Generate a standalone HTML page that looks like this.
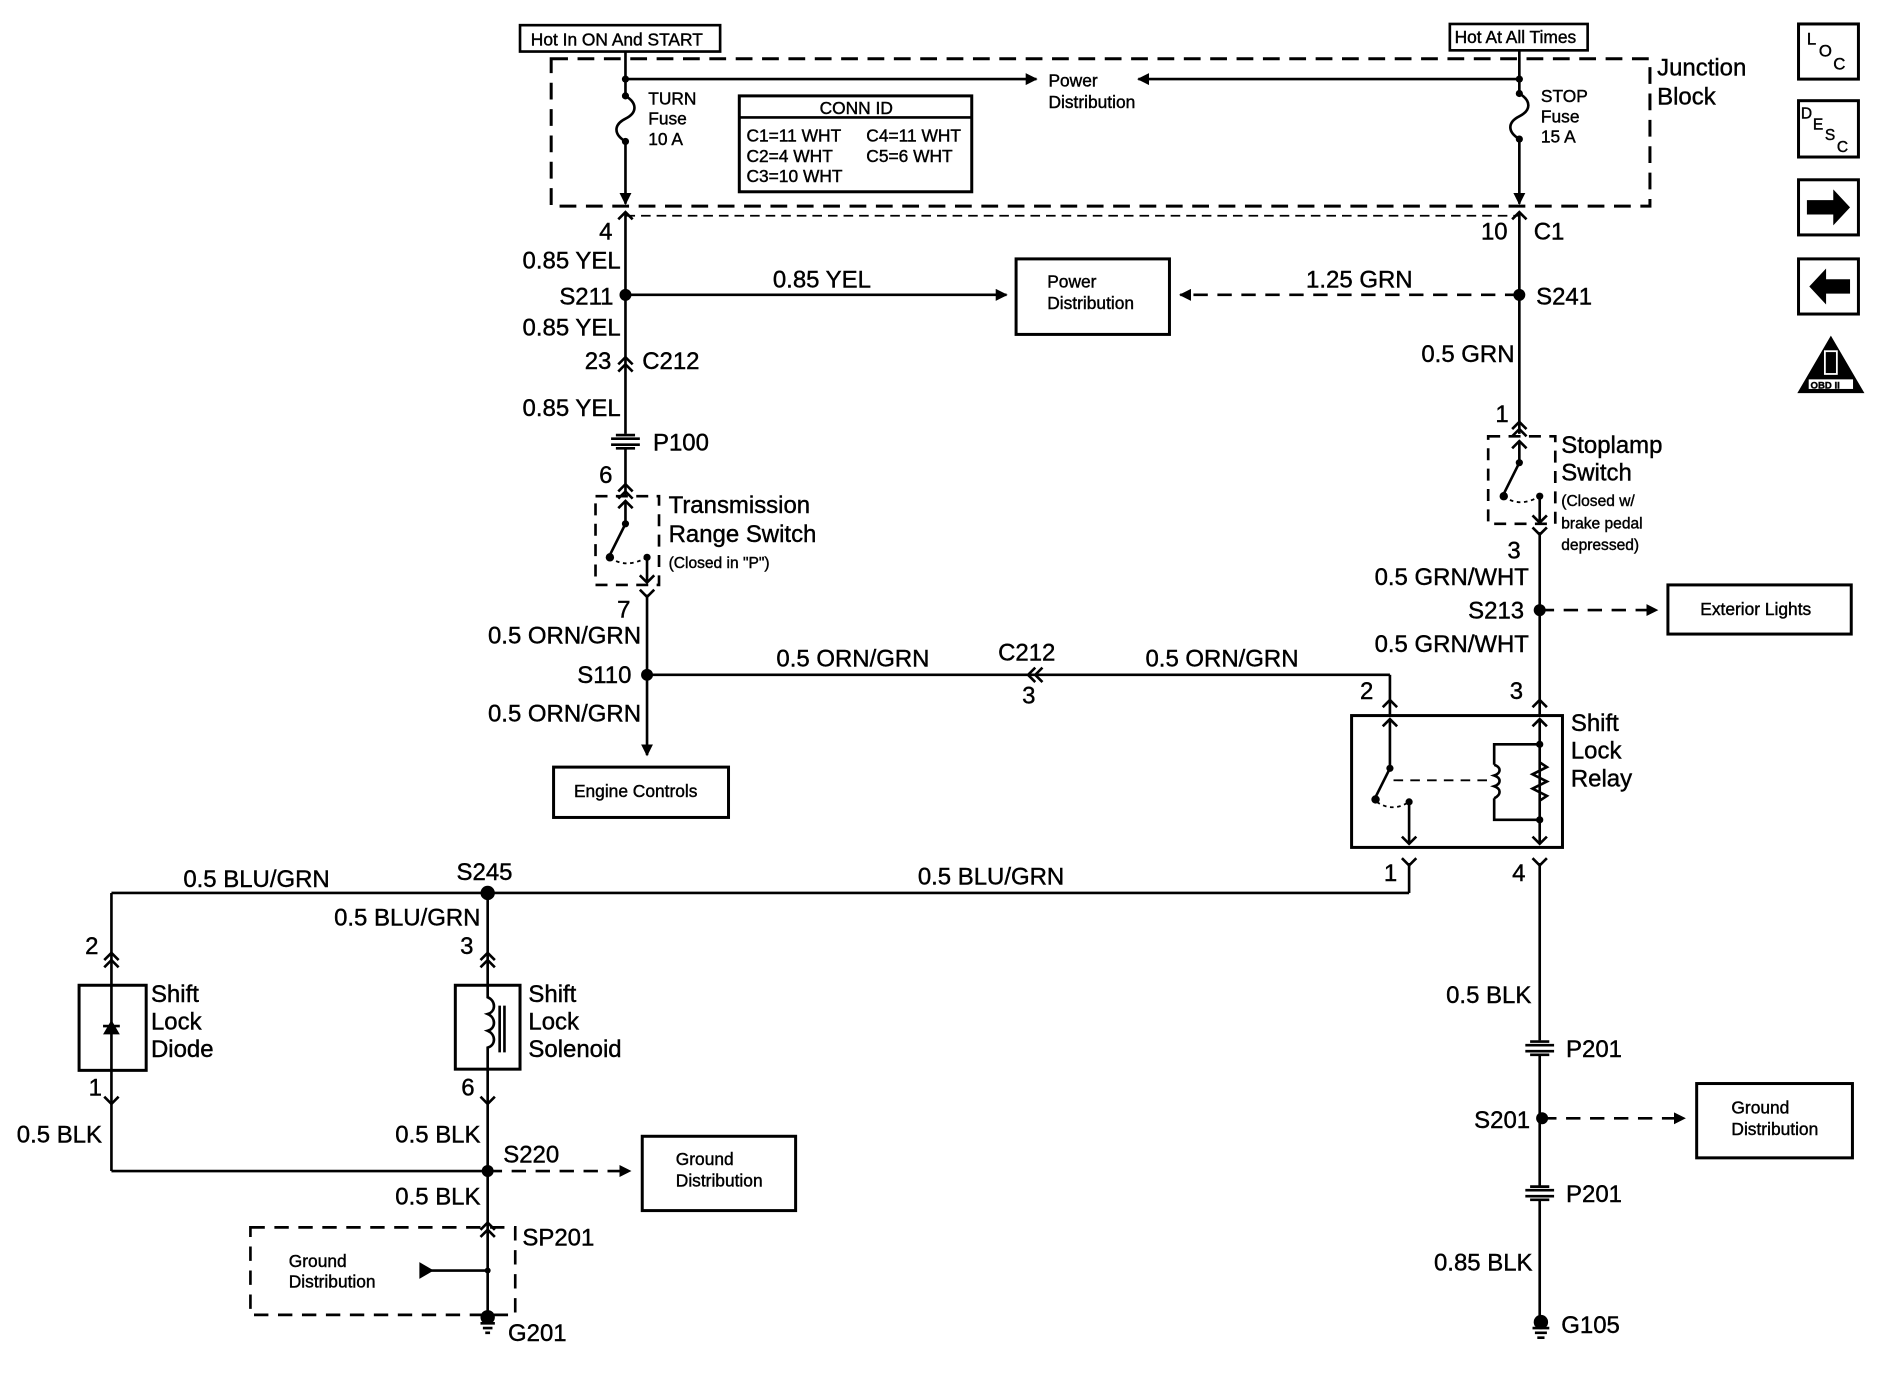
<!DOCTYPE html>
<html><head><meta charset="utf-8"><style>
html,body{margin:0;padding:0;background:#fff;}
svg{display:block;}
text{font-family:"Liberation Sans",sans-serif;fill:#000;stroke:#000;stroke-width:0.35;}
.m{font-size:20px;}
.s{font-size:14.5px;}
.b{font-size:14.5px;}
</style></head><body>
<svg width="1880" height="1376" viewBox="0 0 1569 1148" preserveAspectRatio="none" xmlns="http://www.w3.org/2000/svg">
<defs>
<marker id="ar" markerWidth="10" markerHeight="10" refX="9" refY="5" orient="auto" markerUnits="userSpaceOnUse"><path d="M0,0 L10,5 L0,10 Z" fill="#000"/></marker>
</defs>
<g stroke="#000" stroke-width="2.2" fill="none">
<rect x="434" y="21" width="167" height="22"/>
<rect x="1210" y="20" width="115" height="22"/>
<rect x="460" y="49" width="917" height="123" stroke-dasharray="14,8" stroke-width="2.5"/>
<line x1="522" y1="180" x2="1268" y2="180" stroke-dasharray="8,5" stroke-width="1.5"/>
<line x1="522" y1="43" x2="522" y2="80"/>
<path d="M522,80 c10,6 10,14 0,19 c-10,5 -10,13 0,19"/>
<line x1="522" y1="118" x2="522" y2="170" marker-end="url(#ar)"/>
<line x1="522" y1="66" x2="865" y2="66" marker-end="url(#ar)"/>
<line x1="1268" y1="66" x2="950" y2="66" marker-end="url(#ar)"/>
<line x1="1268" y1="42" x2="1268" y2="78"/>
<path d="M1268,78 c10,6 10,14 0,19 c-10,5 -10,13 0,19"/>
<line x1="1268" y1="116" x2="1268" y2="170" marker-end="url(#ar)"/>
<rect x="617" y="80" width="194" height="80" stroke-width="2.5"/>
<line x1="617" y1="98" x2="811" y2="98"/>
<path d="M516,183 L522,177 L528,183"/>
<line x1="522" y1="178" x2="522" y2="362"/>
<line x1="522" y1="246" x2="840" y2="246" marker-end="url(#ar)"/>
<path d="M516,304 L522,298 L528,304 M516,310 L522,304 L528,310"/>
<path d="M510,366 h24 M510,371 h24 M514,363 h16 M514,374 h16"/>
<line x1="522" y1="374" x2="522" y2="414"/>
<path d="M516,410 L522,404 L528,410 M516,416 L522,410 L528,416"/>
<rect x="497" y="414" width="53" height="74" stroke-dasharray="10,7"/>
<line x1="522" y1="418" x2="522" y2="437"/>
<path d="M516,424 L522,418 L528,424"/>
<line x1="522" y1="437" x2="509" y2="463"/>
<path d="M509,465 Q522,475 540,465" stroke-dasharray="3,3" stroke-width="1.5"/>
<line x1="540" y1="465" x2="540" y2="486"/>
<path d="M534,480 L540,486 L546,480"/>
<path d="M534,492 L540,498 L546,492"/>
<line x1="540" y1="496" x2="540" y2="630" marker-end="url(#ar)"/>
<rect x="462" y="640" width="146" height="42" stroke-width="2.5"/>
<line x1="540" y1="563" x2="1160" y2="563"/>
<path d="M864,557 L858,563 L864,569 M870,557 L864,563 L870,569"/>
<line x1="1160" y1="563" x2="1160" y2="598"/>
<path d="M1154,590 L1160,584 L1166,590"/>
<rect x="848" y="216" width="128" height="63" stroke-width="2.5"/>
<line x1="1268" y1="246" x2="985" y2="246" stroke-dasharray="12,8" marker-end="url(#ar)"/>
<path d="M1262,183 L1268,177 L1274,183"/>
<line x1="1268" y1="178" x2="1268" y2="362"/>
<path d="M1262,358 L1268,352 L1274,358 M1262,364 L1268,358 L1274,364"/>
<rect x="1242" y="364" width="56" height="73" stroke-dasharray="10,7"/>
<line x1="1268" y1="368" x2="1268" y2="386"/>
<path d="M1262,374 L1268,368 L1274,374"/>
<line x1="1268" y1="386" x2="1255" y2="412"/>
<path d="M1255,414 Q1268,424 1285,414" stroke-dasharray="3,3" stroke-width="1.5"/>
<line x1="1285" y1="414" x2="1285" y2="436"/>
<path d="M1279,430 L1285,436 L1291,430"/>
<path d="M1279,440 L1285,446 L1291,440"/>
<line x1="1285" y1="444" x2="1285" y2="598"/>
<line x1="1285" y1="509" x2="1383" y2="509" stroke-dasharray="12,8" marker-end="url(#ar)"/>
<rect x="1392" y="488" width="153" height="41" stroke-width="2.5"/>
<path d="M1279,590 L1285,584 L1291,590"/>
<rect x="1128" y="597" width="176" height="110" stroke-width="2.5"/>
<line x1="1160" y1="600" x2="1160" y2="641"/>
<path d="M1154,606 L1160,600 L1166,606"/>
<line x1="1160" y1="641" x2="1148" y2="665"/>
<path d="M1149,669 Q1162,678 1176,669" stroke-dasharray="3,3" stroke-width="1.5"/>
<line x1="1176" y1="669" x2="1176" y2="704"/>
<path d="M1170,698 L1176,704 L1182,698"/>
<line x1="1163" y1="651" x2="1243" y2="651" stroke-dasharray="8,6" stroke-width="1.5"/>
<line x1="1285" y1="600" x2="1285" y2="704"/>
<path d="M1279,606 L1285,600 L1291,606 M1279,698 L1285,704 L1291,698"/>
<path d="M1285,621 H1247 V638 M1247,666 V684 H1285"/>
<path d="M1247,638 c6,2 6,7 0,9 c6,2 6,7 0,9 c6,2 6,7 0,10"/>
<path d="M1285,636 l6,4 l-12,6 l12,6 l-12,6 l12,6 l-6,4"/>
<path d="M1170,716 L1176,722 L1182,716"/>
<line x1="1176" y1="720" x2="1176" y2="745"/>
<line x1="1176" y1="745" x2="93" y2="745"/>
<path d="M1279,716 L1285,722 L1291,716"/>
<line x1="1285" y1="720" x2="1285" y2="868"/>
<path d="M1273,872 h24 M1273,877 h24 M1277,869 h16 M1277,880 h16"/>
<line x1="1285" y1="880" x2="1285" y2="990"/>
<line x1="1287" y1="933" x2="1406" y2="933" stroke-dasharray="12,8" marker-end="url(#ar)"/>
<rect x="1416" y="904" width="130" height="62" stroke-width="2.5"/>
<path d="M1273,993 h24 M1273,998 h24 M1277,990 h16 M1277,1001 h16"/>
<line x1="1285" y1="1001" x2="1285" y2="1100"/>
<path d="M1279,1108 h14 M1281,1112 h10 M1283,1116 h6"/>
<line x1="93" y1="745" x2="93" y2="822"/>
<path d="M87,801 L93,795 L99,801 M87,807 L93,801 L99,807"/>
<rect x="66" y="822" width="56" height="71" stroke-width="2.5"/>
<line x1="93" y1="822" x2="93" y2="893"/>
<line x1="86" y1="856" x2="100" y2="856"/>
<line x1="93" y1="893" x2="93" y2="977"/>
<path d="M87,915 L93,921 L99,915"/>
<line x1="93" y1="977" x2="407" y2="977"/>
<line x1="407" y1="745" x2="407" y2="822"/>
<path d="M401,801 L407,795 L413,801 M401,807 L407,801 L413,807"/>
<rect x="380" y="822" width="54" height="70" stroke-width="2.5"/>
<path d="M407,822 V832 c7,3 7,12 0,14 c7,3 7,12 0,14 c7,3 7,12 0,14 V892" />
<line x1="417" y1="839" x2="417" y2="878"/><line x1="421" y1="839" x2="421" y2="878"/>
<line x1="407" y1="892" x2="407" y2="1095"/>
<path d="M401,915 L407,921 L413,915"/>
<line x1="407" y1="977" x2="526" y2="977" stroke-dasharray="12,8" marker-end="url(#ar)"/>
<rect x="536" y="948" width="128" height="62" stroke-width="2.5"/>
<path d="M401,1026 L407,1020 L413,1026 M401,1032 L407,1026 L413,1032"/>
<rect x="209" y="1024" width="221" height="73" stroke-dasharray="12,8"/>
<line x1="407" y1="1060" x2="360" y2="1060"/>
<path d="M401,1104 h12 M403,1108 h8 M405,1112 h4"/>
<rect x="1501" y="20" width="50" height="46" stroke-width="2.5"/>
<rect x="1501" y="84" width="50" height="47" stroke-width="2.5"/>
<rect x="1501" y="150" width="50" height="46" stroke-width="2.5"/>
<rect x="1501" y="216" width="50" height="46" stroke-width="2.5"/>
</g>
<g fill="#000">
<circle cx="522" cy="66" r="3"/><circle cx="1268" cy="66" r="3"/>
<circle cx="522" cy="80" r="3"/><circle cx="522" cy="118" r="3"/>
<circle cx="1268" cy="78" r="3"/><circle cx="1268" cy="116" r="3"/>
<circle cx="522" cy="246" r="5"/><circle cx="1268" cy="246" r="5"/>
<circle cx="540" cy="563" r="5"/><circle cx="1285" cy="509" r="5"/>
<circle cx="407" cy="745" r="6"/><circle cx="407" cy="977" r="5"/>
<circle cx="1287" cy="933" r="5"/>
<circle cx="522" cy="437" r="3"/><circle cx="509" cy="465" r="3.5"/><circle cx="540" cy="465" r="3"/>
<circle cx="1268" cy="386" r="3"/><circle cx="1255" cy="414" r="3.5"/><circle cx="1285" cy="414" r="3"/>
<circle cx="1160" cy="641" r="3"/><circle cx="1148" cy="667" r="3.5"/><circle cx="1176" cy="669" r="3"/>
<circle cx="1285" cy="621" r="3"/><circle cx="1285" cy="684" r="3"/>
<circle cx="407" cy="1060" r="2.5"/>
<circle cx="407" cy="1099" r="6"/><circle cx="1286" cy="1103" r="6"/>
<path d="M86,863 L100,863 L93,851 Z"/>
<path d="M350,1053 L362,1060 L350,1067 Z"/>
<path d="M1508,167 h22 v-9 l14,15 l-14,15 v-9 h-22 Z"/>
<path d="M1544,233 h-20 v-9 l-14,15 l14,15 v-9 h20 Z"/>
<path d="M1528,280 L1556,328 L1500,328 Z"/>
</g>
<rect x="1509" y="316" width="38" height="9" fill="#fff" stroke="#000"/>
<text x="1511" y="324" style="font-size:8px;font-weight:bold">OBD II</text>
<rect x="1523" y="293" width="10" height="19" fill="none" stroke="#fff" stroke-width="1.5"/>
<text x="443" y="38" class="s">Hot In ON And START</text>
<text x="1214" y="36" class="s">Hot At All Times</text>
<text x="1383" y="63" style="font-size:20px">Junction</text>
<text x="1383" y="87" style="font-size:20px">Block</text>
<text x="875" y="72" class="s">Power</text><text x="875" y="90" class="s">Distribution</text>
<text x="541" y="87" class="s">TURN</text><text x="541" y="104" class="s">Fuse</text><text x="541" y="121" class="s">10 A</text>
<text x="1286" y="85" class="s">STOP</text><text x="1286" y="102" class="s">Fuse</text><text x="1286" y="119" class="s">15 A</text>
<text x="684" y="95" class="s">CONN ID</text>
<text x="623" y="118" class="s">C1=11 WHT</text><text x="723" y="118" class="s">C4=11 WHT</text>
<text x="623" y="135" class="s">C2=4 WHT</text><text x="723" y="135" class="s">C5=6 WHT</text>
<text x="623" y="152" class="s">C3=10 WHT</text>
<text x="500" y="200" class="m">4</text>
<text x="1236" y="200" class="m">10</text><text x="1280" y="200" class="m">C1</text>
<text x="518" y="224" class="m" text-anchor="end">0.85 YEL</text>
<text x="512" y="254" class="m" text-anchor="end">S211</text>
<text x="518" y="280" class="m" text-anchor="end">0.85 YEL</text>
<text x="488" y="308" class="m">23</text><text x="536" y="308" class="m">C212</text>
<text x="518" y="347" class="m" text-anchor="end">0.85 YEL</text>
<text x="545" y="376" class="m">P100</text>
<text x="500" y="403" class="m">6</text>
<text x="645" y="240" class="m">0.85 YEL</text>
<text x="874" y="240" class="s">Power</text><text x="874" y="258" class="s">Distribution</text>
<text x="1090" y="240" class="m">1.25 GRN</text>
<text x="1282" y="254" class="m">S241</text>
<text x="1264" y="302" class="m" text-anchor="end">0.5 GRN</text>
<text x="1248" y="352" class="m">1</text>
<text x="558" y="428" class="m">Transmission</text>
<text x="558" y="452" class="m">Range Switch</text>
<text x="558" y="474" style="font-size:13px">(Closed in "P")</text>
<text x="1303" y="378" class="m">Stoplamp</text>
<text x="1303" y="401" class="m">Switch</text>
<text x="1303" y="422" style="font-size:13px">(Closed w/</text>
<text x="1303" y="441" style="font-size:13px">brake pedal</text>
<text x="1303" y="459" style="font-size:13px">depressed)</text>
<text x="1258" y="466" class="m">3</text>
<text x="1276" y="488" class="m" text-anchor="end">0.5 GRN/WHT</text>
<text x="1272" y="516" class="m" text-anchor="end">S213</text>
<text x="1276" y="544" class="m" text-anchor="end">0.5 GRN/WHT</text>
<text x="1419" y="513" class="s">Exterior Lights</text>
<text x="1260" y="583" class="m">3</text>
<text x="1135" y="583" class="m">2</text>
<text x="515" y="515" class="m">7</text>
<text x="535" y="537" class="m" text-anchor="end">0.5 ORN/GRN</text>
<text x="527" y="570" class="m" text-anchor="end">S110</text>
<text x="535" y="602" class="m" text-anchor="end">0.5 ORN/GRN</text>
<text x="648" y="556" class="m">0.5 ORN/GRN</text>
<text x="833" y="551" class="m">C212</text>
<text x="853" y="587" class="m">3</text>
<text x="956" y="556" class="m">0.5 ORN/GRN</text>
<text x="479" y="665" class="s">Engine Controls</text>
<text x="1311" y="610" class="m">Shift</text><text x="1311" y="633" class="m">Lock</text><text x="1311" y="656" class="m">Relay</text>
<text x="1155" y="735" class="m">1</text><text x="1262" y="735" class="m">4</text>
<text x="153" y="740" class="m">0.5 BLU/GRN</text>
<text x="381" y="734" class="m">S245</text>
<text x="766" y="738" class="m">0.5 BLU/GRN</text>
<text x="401" y="772" class="m" text-anchor="end">0.5 BLU/GRN</text>
<text x="71" y="796" class="m">2</text><text x="384" y="796" class="m">3</text>
<text x="126" y="836" class="m">Shift</text><text x="126" y="859" class="m">Lock</text><text x="126" y="882" class="m">Diode</text>
<text x="441" y="836" class="m">Shift</text><text x="441" y="859" class="m">Lock</text><text x="441" y="882" class="m">Solenoid</text>
<text x="74" y="914" class="m">1</text><text x="385" y="914" class="m">6</text>
<text x="14" y="953" class="m">0.5 BLK</text>
<text x="401" y="953" class="m" text-anchor="end">0.5 BLK</text>
<text x="420" y="970" class="m">S220</text>
<text x="401" y="1005" class="m" text-anchor="end">0.5 BLK</text>
<text x="564" y="972" class="s">Ground</text><text x="564" y="990" class="s">Distribution</text>
<text x="436" y="1039" class="m">SP201</text>
<text x="241" y="1057" class="s">Ground</text><text x="241" y="1074" class="s">Distribution</text>
<text x="424" y="1119" class="m">G201</text>
<text x="1278" y="837" class="m" text-anchor="end">0.5 BLK</text>
<text x="1307" y="882" class="m">P201</text>
<text x="1277" y="941" class="m" text-anchor="end">S201</text>
<text x="1445" y="929" class="s">Ground</text><text x="1445" y="947" class="s">Distribution</text>
<text x="1307" y="1003" class="m">P201</text>
<text x="1279" y="1060" class="m" text-anchor="end">0.85 BLK</text>
<text x="1303" y="1112" class="m">G105</text>
<text x="1508" y="37" style="font-size:14px">L</text><text x="1518" y="47" style="font-size:14px">O</text><text x="1530" y="58" style="font-size:14px">C</text>
<text x="1503" y="99" style="font-size:13px">D</text><text x="1513" y="108" style="font-size:13px">E</text><text x="1523" y="117" style="font-size:13px">S</text><text x="1533" y="127" style="font-size:13px">C</text>
</svg>
</body></html>
